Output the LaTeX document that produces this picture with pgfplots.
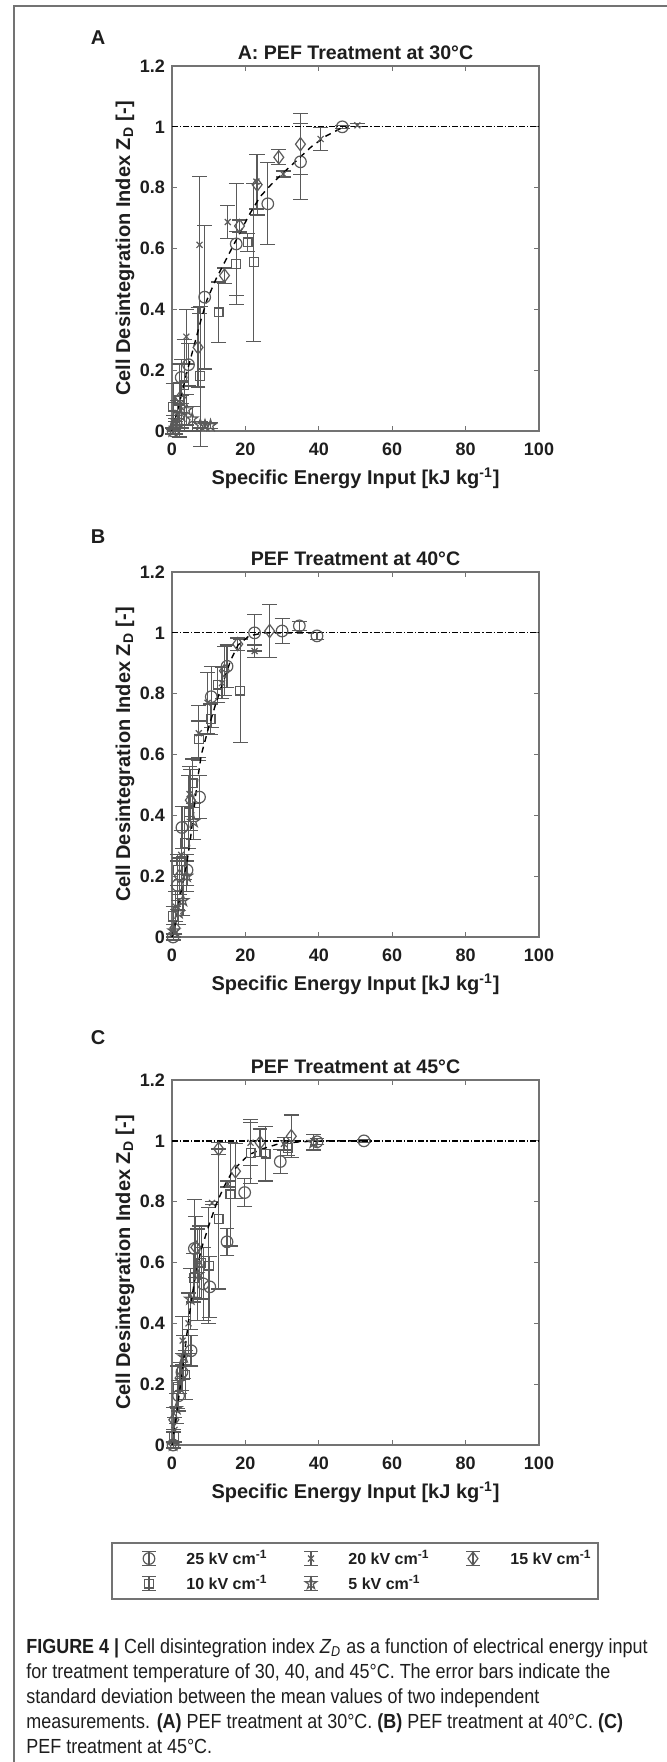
\documentclass[border=0pt]{standalone}
\usepackage{fontspec}
\setmainfont{Liberation Sans}
\newfontfamily\capfont[FakeStretch=0.88]{Liberation Sans}
\usepackage{pgfplots}
\pgfplotsset{compat=1.18}

\definecolor{mk}{RGB}{90,90,90}
\definecolor{ax}{RGB}{115,115,115}
\definecolor{txt}{RGB}{30,30,30}

% outline five-point star (MATLAB pentagram)
\pgfdeclareplotmark{pent}{%
  \pgfpathmoveto{\pgfpointpolar{90}{\pgfplotmarksize}}%
  \pgfpathlineto{\pgfpointpolar{126}{0.382\pgfplotmarksize}}%
  \pgfpathlineto{\pgfpointpolar{162}{\pgfplotmarksize}}%
  \pgfpathlineto{\pgfpointpolar{198}{0.382\pgfplotmarksize}}%
  \pgfpathlineto{\pgfpointpolar{234}{\pgfplotmarksize}}%
  \pgfpathlineto{\pgfpointpolar{270}{0.382\pgfplotmarksize}}%
  \pgfpathlineto{\pgfpointpolar{306}{\pgfplotmarksize}}%
  \pgfpathlineto{\pgfpointpolar{342}{0.382\pgfplotmarksize}}%
  \pgfpathlineto{\pgfpointpolar{18}{\pgfplotmarksize}}%
  \pgfpathlineto{\pgfpointpolar{54}{0.382\pgfplotmarksize}}%
  \pgfpathclose\pgfusepathqstroke}

\pgfplotsset{
  pefaxis/.style={
    scale only axis, width=183.5pt, height=182.5pt,
    xmin=0, xmax=100, ymin=0, ymax=1.2,
    xtick={0,20,...,100}, ytick={0,0.2,0.4,0.6,0.8,1,1.2},
    tick align=inside, major tick length=2.3pt,
    axis line style={ax, line width=0.55pt},
    every tick/.style={ax, line width=0.55pt},
    tick label style={font=\bfseries\fontsize{9}{10}\selectfont, text=txt},
    /pgf/number format/assume math mode=true,
    xticklabel style={yshift=-2.2pt},
    label style={font=\bfseries\fontsize{10}{12}\selectfont, text=txt},
    title style={font=\bfseries\fontsize{9.8}{12}\selectfont, text=txt,
      at={(axis description cs:0.5,1)}, anchor=base, yshift=-2.8pt},
    xlabel={Specific Energy Input [kJ kg\textsuperscript{-1}]},
    ylabel={Cell Desintegration Index Z\textsubscript{D} [-]},
    xlabel style={at={(axis description cs:0.5,-0.129)}, anchor=center},
    ylabel style={at={(axis description cs:-0.128,0.5)}, anchor=center},
    clip=false,
  },
  eb/.style={error bars/.cd, y dir=both, y explicit,
    error bar style={mk, line width=0.6pt},
    error mark options={rotate=90, mk, mark size=3.7pt, line width=0.6pt}, /pgfplots/.cd},
  legimg/.style={legend image code/.code={%
    \draw[mk, line width=0.6pt] (0pt,-3.6pt) -- (0pt,3.6pt)
      (-3.3pt,-3.6pt) -- (3.3pt,-3.6pt) (-3.3pt,3.6pt) -- (3.3pt,3.6pt);
    \draw[##1] plot coordinates {(0pt,0pt)};
    \path[draw=none, fill=none] (-18.5pt,-6.25pt) rectangle (18.75pt,6.25pt);}},
  s25/.style={only marks, mark=o, mark size=2.9pt, mk, line width=0.6pt, legimg, eb},
  s20/.style={only marks, mark=x, mark size=2.1pt, mk, line width=0.6pt, legimg, eb},
  s15/.style={only marks, mark=diamond, mark size=3.3pt, mk, line width=0.6pt, legimg, eb},
  s10/.style={only marks, mark=square, mark size=2.2pt, mk, line width=0.6pt, legimg, eb},
  s05/.style={only marks, mark=pent, mark size=3pt, mk, line width=0.6pt, legimg, eb},
  fit/.style={black, line width=0.7pt, dash pattern=on 3pt off 2.5pt, forget plot},
  refl/.style={black, line width=0.65pt, dash pattern=on 3pt off 1pt on 0.6pt off 1pt, forget plot},
}

\begin{document}
\begin{tikzpicture}
\path[use as bounding box] (0,0) rectangle (333.5pt,-881pt);
\draw[ax, line width=0.75pt] (7pt,-881pt) -- (7pt,-3pt) -- (333.5pt,-3pt);

\node[font=\bfseries\fontsize{10}{12}\selectfont, text=txt] at (49pt,-19pt) {A};
\node[font=\bfseries\fontsize{10}{12}\selectfont, text=txt] at (49pt,-268.5pt) {B};
\node[font=\bfseries\fontsize{10}{12}\selectfont, text=txt] at (49pt,-519pt) {C};

% ---------------- A: 30 C
\begin{axis}[pefaxis, at={(86pt,-215.5pt)}, anchor=south west,
  title={A: PEF Treatment at 30°C}]
\addplot[s25] coordinates {
 (0.3,0.0) +- (0,0.01) (1.2,0.02) +- (0,0.02) (2.5,0.176) +- (0,0.06)
 (4.5,0.218) +- (0,0.07) (8.9,0.44) +- (0,0.236) (17.5,0.615) +- (0,0.2)
 (26.1,0.747) +- (0,0.135) (35.0,0.885) +- (0,0.125) (46.4,1.0) +- (0,0.005)};
\addplot[s20] coordinates {
 (0.5,0.03) +- (0,0.02) (1.5,0.06) +- (0,0.04) (3.9,0.31) +- (0,0.09)
 (7.5,0.612) +- (0,0.225) (15.2,0.687) +- (0,0.055) (23.0,0.82) +- (0,0.09)
 (30.3,0.845) +- (0,0.01) (40.5,0.96) +- (0,0.038) (50.5,1.005) +- (0,0.005)};
\addplot[s15] coordinates {
 (1.0,0.02) +- (0,0.02) (2.3,0.11) +- (0,0.05) (7.1,0.275) +- (0,0.13)
 (14.3,0.511) +- (0,0.025) (18.4,0.674) +- (0,0.02) (23.2,0.81) +- (0,0.1)
 (29.1,0.90) +- (0,0.025) (35.0,0.943) +- (0,0.1)};
\addplot[s10] coordinates {
 (0.3,0.08) +- (0,0.075) (2.0,0.10) +- (0,0.12) (3.3,0.15) +- (0,0.15)
 (7.7,0.18) +- (0,0.23) (12.7,0.39) +- (0,0.1) (17.5,0.55) +- (0,0.105)
 (20.6,0.62) +- (0,0.03) (22.3,0.555) +- (0,0.26)};
\addplot[s05] coordinates {
 (0.2,0.0) +- (0,0.01) (1.0,0.01) +- (0,0.02) (2.5,0.05) +- (0,0.04)
 (4.0,0.07) +- (0,0.05) (5.5,0.04) +- (0,0.04) (7.7,0.02) +- (0,0.01)
 (9.0,0.018) +- (0,0.01) (10.5,0.018) +- (0,0.01)};
\addplot[fit] coordinates {
 (0,0) (2,0.09) (4,0.19) (6,0.28) (8,0.37) (9.5,0.43) (12,0.5) (15,0.57)
 (18,0.64) (21,0.71) (24,0.77) (27,0.81) (30,0.845) (34,0.89) (38,0.935)
 (42,0.97) (46,0.995) (48,1.0)};
\addplot[refl] coordinates {(0,1) (100,1)};
\end{axis}

% ---------------- B: 40 C
\begin{axis}[pefaxis, at={(86pt,-468.5pt)}, anchor=south west,
  title={PEF Treatment at 40°C}]
\addplot[s25] coordinates {
 (0.3,0.0) +- (0,0.01) (1.5,0.17) +- (0,0.08) (2.7,0.36) +- (0,0.07)
 (4.1,0.22) +- (0,0.05) (7.5,0.46) +- (0,0.07) (10.7,0.79) +- (0,0.1)
 (15.0,0.89) +- (0,0.07) (22.5,1.0) +- (0,0.06) (30.0,1.006) +- (0,0.04)
 (34.7,1.023) +- (0,0.015) (39.5,0.99) +- (0,0.012)};
\addplot[s20] coordinates {
 (1.0,0.1) +- (0,0.05) (2.5,0.27) +- (0,0.08) (4.8,0.47) +- (0,0.09)
 (7.3,0.67) +- (0,0.09) (9.7,0.77) +- (0,0.1) (13.6,0.835) +- (0,0.05)
 (22.5,0.94) +- (0,0.02)};
\addplot[s15] coordinates {
 (0.8,0.03) +- (0,0.02) (2.0,0.2) +- (0,0.06) (5.0,0.45) +- (0,0.1)
 (14.3,0.875) +- (0,0.08) (17.9,0.963) +- (0,0.02) (26.6,1.006) +- (0,0.087)};
\addplot[s10] coordinates {
 (0.3,0.07) +- (0,0.03) (1.5,0.22) +- (0,0.05) (2.5,0.25) +- (0,0.1)
 (3.5,0.31) +- (0,0.12) (4.5,0.41) +- (0,0.12) (5.6,0.505) +- (0,0.08)
 (7.3,0.65) +- (0,0.06) (10.5,0.716) +- (0,0.05) (12.5,0.83) +- (0,0.06)
 (18.6,0.81) +- (0,0.17)};
\addplot[s05] coordinates {
 (0.5,0.02) +- (0,0.02) (1.8,0.08) +- (0,0.04) (3.0,0.12) +- (0,0.05)
 (4.0,0.2) +- (0,0.05) (5.9,0.38) +- (0,0.06)};
\addplot[fit] coordinates {
 (0,0) (1,0.05) (2,0.12) (3,0.18) (4,0.24) (5,0.32) (6,0.42) (7,0.52)
 (8,0.6) (10,0.69) (12,0.77) (14,0.84) (16,0.91) (18,0.96) (21,0.99)
 (25,1.0) (40,1.0)};
\addplot[refl] coordinates {(0,1) (100,1)};
\end{axis}

% ---------------- C: 45 C
\begin{axis}[pefaxis, at={(86pt,-722.5pt)}, anchor=south west,
  title={PEF Treatment at 45°C},
  legend columns=3, legend cell align=left,
  legend style={at={(0.4986,-0.267)}, anchor=north, draw=ax, line width=0.6pt,
    fill=white, inner xsep=0pt, inner ysep=1.5pt,
    font=\bfseries\fontsize{8}{9}\selectfont, text=txt,
    /tikz/column sep=0pt, /tikz/row sep=0pt, nodes={inner sep=0pt}}]
\addplot[s25] coordinates {
 (0.3,0.0) +- (0,0.01) (1.8,0.162) +- (0,0.05) (2.7,0.24) +- (0,0.06)
 (5.2,0.31) +- (0,0.05) (6.1,0.646) +- (0,0.16) (8.5,0.53) +- (0,0.12)
 (10.3,0.52) +- (0,0.1) (15.0,0.668) +- (0,0.045) (19.8,0.83) +- (0,0.045)
 (29.5,0.932) +- (0,0.04) (39.5,0.997) +- (0,0.01) (52.3,1.0) +- (0,0.005)};
\addplot[s20] coordinates {
 (0.7,0.05) +- (0,0.04) (2.9,0.343) +- (0,0.08) (4.5,0.4) +- (0,0.1)
 (7.5,0.6) +- (0,0.12) (10.9,0.796) +- (0,0.005) (15.2,0.858) +- (0,0.01)
 (21.4,0.994) +- (0,0.075) (30.5,0.99) +- (0,0.02)};
\addplot[s15] coordinates {
 (0.5,0.083) +- (0,0.04) (2.2,0.22) +- (0,0.05) (6.5,0.65) +- (0,0.1)
 (12.7,0.974) +- (0,0.02) (17.3,0.9) +- (0,0.09) (24.0,0.994) +- (0,0.045)
 (32.5,1.015) +- (0,0.07)};
\addplot[s10] coordinates {
 (0.5,0.03) +- (0,0.02) (1.5,0.19) +- (0,0.07) (3.6,0.23) +- (0,0.08)
 (5.9,0.55) +- (0,0.08) (8.0,0.6) +- (0,0.12) (10.0,0.59) +- (0,0.19)
 (12.7,0.743) +- (0,0.23) (15.9,0.824) +- (0,0.17) (21.4,0.96) +- (0,0.1)
 (25.5,0.958) +- (0,0.09) (31.5,0.977) +- (0,0.025)};
\addplot[s05] coordinates {
 (0.3,0.0) +- (0,0.01) (1.2,0.12) +- (0,0.05) (3.2,0.29) +- (0,0.07)
 (5.0,0.48) +- (0,0.1) (7.0,0.56) +- (0,0.15) (38.6,0.995) +- (0,0.025)};
\addplot[fit] coordinates {
 (0,0) (1,0.08) (2,0.17) (3,0.26) (4,0.36) (5,0.45) (6,0.53) (7,0.59)
 (8,0.645) (10,0.72) (12,0.79) (14,0.845) (16,0.89) (18,0.92) (21,0.955)
 (25,0.975) (29,0.99) (35,0.997) (42,1.0) (52,1.0)};
\addplot[refl] coordinates {(0,1) (100,1)};
\legend{\makebox[43.75pt][l]{25 kV cm\textsuperscript{-1}},
        \makebox[43.75pt][l]{20 kV cm\textsuperscript{-1}},
        \makebox[43.75pt][l]{15 kV cm\textsuperscript{-1}},
        \makebox[43.75pt][l]{10 kV cm\textsuperscript{-1}},
        \makebox[43.75pt][l]{5 kV cm\textsuperscript{-1}}}
\end{axis}

% caption
\begin{scope}[every node/.style={anchor=base west, inner sep=0pt, text=txt,
    font=\capfont\fontsize{10.2}{12}\selectfont}]
\node at (13pt,-826.5pt) {\textbf{FIGURE 4 |} Cell disintegration index \textit{Z}\textsubscript{\textit{D}} as a function of electrical energy input};
\node at (13pt,-839pt) {for treatment temperature of 30, 40, and 45°C. The error bars indicate the};
\node at (13pt,-851.5pt) {standard deviation between the mean values of two independent};
\node at (13pt,-864pt) {measurements. \textbf{(A)} PEF treatment at 30°C. \textbf{(B)} PEF treatment at 40°C. \textbf{(C)}};
\node at (13pt,-876.5pt) {PEF treatment at 45°C.};
\end{scope}
\end{tikzpicture}
\end{document}
